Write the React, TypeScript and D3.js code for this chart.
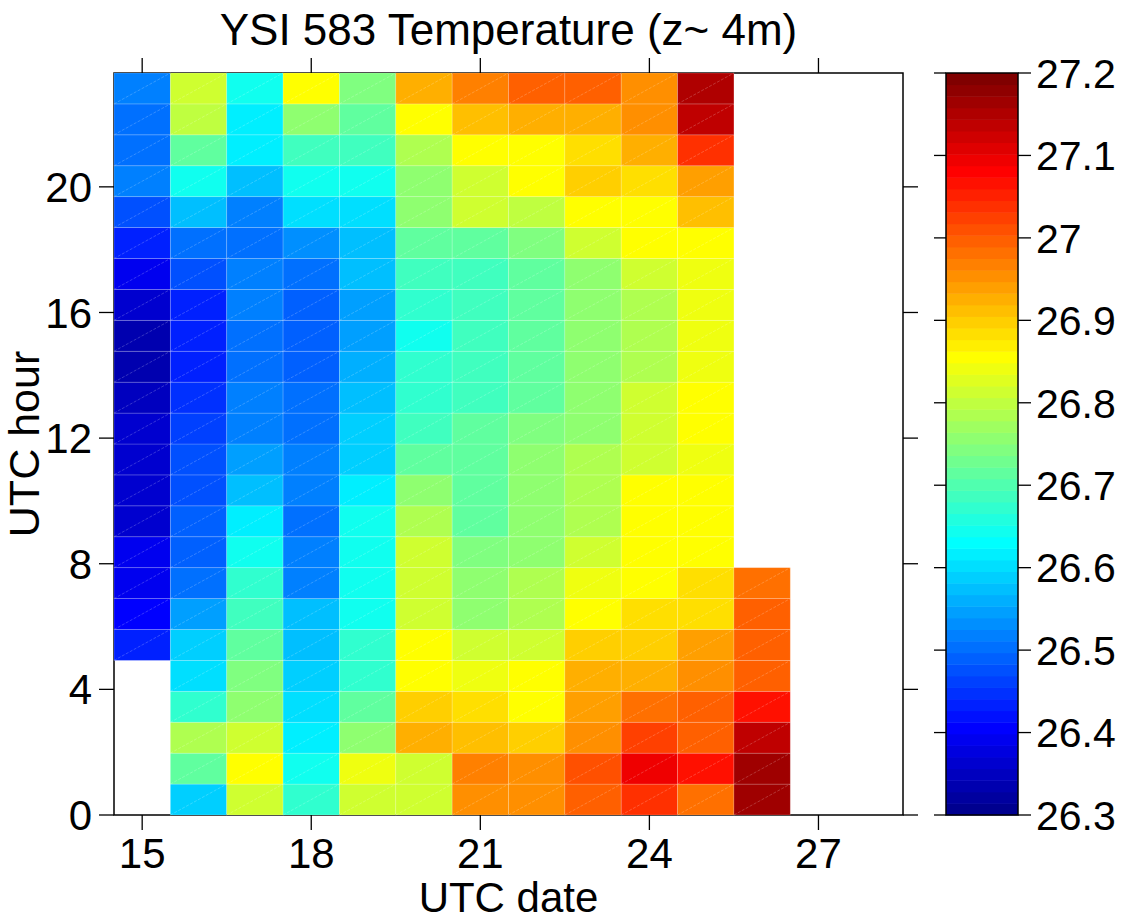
import React from "react";
import * as d3 from "d3";

const dates = [15, 16, 17, 18, 19, 20, 21, 22, 23, 24, 25, 26];
const hours = [0, 1, 2, 3, 4, 5, 6, 7, 8, 9, 10, 11, 12, 13, 14, 15, 16, 17, 18, 19, 20, 21, 22, 23];

// temperatures per date, hour 0..23 (null = no data)
const temp15 = [null, null, null, null, null, 26.43, 26.41, 26.39, 26.39, 26.37, 26.37, 26.36, 26.37, 26.355, 26.34, 26.34, 26.36, 26.39, 26.43, 26.48, 26.52, 26.51, 26.51, 26.525];
const temp16 = [26.59, 26.71, 26.78, 26.67, 26.6, 26.59, 26.55, 26.5, 26.49, 26.49, 26.48, 26.48, 26.46, 26.45, 26.44, 26.44, 26.44, 26.48, 26.51, 26.57, 26.65, 26.71, 26.8, 26.81];
const temp17 = [26.81, 26.85, 26.82, 26.76, 26.74, 26.71, 26.68, 26.67, 26.64, 26.62, 26.58, 26.55, 26.52, 26.52, 26.51, 26.5, 26.52, 26.52, 26.51, 26.525, 26.57, 26.62, 26.62, 26.64];
const temp18 = [26.67, 26.64, 26.62, 26.6, 26.59, 26.57, 26.57, 26.525, 26.52, 26.51, 26.52, 26.52, 26.51, 26.5, 26.49, 26.49, 26.49, 26.5, 26.53, 26.6, 26.65, 26.69, 26.76, 26.85];
const temp19 = [26.82, 26.835, 26.76, 26.71, 26.67, 26.67, 26.65, 26.64, 26.64, 26.64, 26.61, 26.59, 26.59, 26.57, 26.56, 26.55, 26.55, 26.57, 26.58, 26.6, 26.65, 26.68, 26.71, 26.74];
const temp20 = [26.81, 26.82, 26.93, 26.9, 26.86, 26.85, 26.81, 26.81, 26.81, 26.79, 26.76, 26.71, 26.69, 26.67, 26.67, 26.65, 26.67, 26.69, 26.71, 26.75, 26.76, 26.78, 26.86, 26.925];
const temp21 = [26.95, 26.965, 26.91, 26.89, 26.835, 26.81, 26.76, 26.75, 26.74, 26.72, 26.72, 26.71, 26.71, 26.69, 26.69, 26.68, 26.68, 26.69, 26.72, 26.81, 26.81, 26.86, 26.91, 26.966];
const temp22 = [26.95, 26.95, 26.9, 26.86, 26.85, 26.81, 26.78, 26.78, 26.76, 26.75, 26.75, 26.75, 26.74, 26.72, 26.72, 26.72, 26.72, 26.72, 26.74, 26.8, 26.86, 26.86, 26.93, 26.99];
const temp23 = [27.0, 27.01, 26.955, 26.94, 26.925, 26.9, 26.85, 26.835, 26.81, 26.79, 26.78, 26.78, 26.76, 26.76, 26.76, 26.76, 26.76, 26.76, 26.81, 26.85, 26.9, 26.88, 26.925, 27.0];
const temp24 = [27.04, 27.09, 27.02, 26.975, 26.93, 26.9, 26.89, 26.86, 26.86, 26.86, 26.85, 26.82, 26.82, 26.81, 26.78, 26.78, 26.78, 26.81, 26.85, 26.86, 26.89, 26.925, 26.96, 26.95];
const temp25 = [26.975, 27.07, 26.99, 26.99, 26.95, 26.94, 26.89, 26.88, 26.86, 26.86, 26.86, 26.84, 26.85, 26.85, 26.84, 26.835, 26.835, 26.835, 26.86, 26.91, 26.94, 27.035, 27.13, 27.145];
const temp26 = [27.17, 27.17, 27.13, 27.07, 27.0, 26.99, 26.99, 26.975, null, null, null, null, null, null, null, null, null, null, null, null, null, null, null, null];
const temps = [temp15, temp16, temp17, temp18, temp19, temp20, temp21, temp22, temp23, temp24, temp25, temp26];

const xTicks = [15, 18, 21, 24, 27];
const yTicks = [0, 4, 8, 12, 16, 20];
const cbTicks = [26.3, 26.4, 26.5, 26.6, 26.7, 26.8, 26.9, 27.0, 27.1, 27.2];
const cDomain = [26.3, 27.2];
const xDomain = [14.5, 28.5];
const yDomain = [0, 23.625];

const titleText = "YSI 583 Temperature (z~ 4m)";
const xLabel = "UTC date";
const yLabel = "UTC hour";

// MATLAB jet(64)
function jet64(): string[] {
  const n = 16;
  const u: number[] = [];
  for (let i = 1; i <= n; i++) u.push(i / n);
  for (let i = 0; i < n - 1; i++) u.push(1);
  for (let i = n; i >= 1; i--) u.push(i / n);
  const out: string[] = [];
  for (let j = 1; j <= 64; j++) {
    const gi = j - 8, ri = j - 24, bi = j + 8;
    const g = gi >= 1 && gi <= u.length ? u[gi - 1] : 0;
    const r = ri >= 1 && ri <= u.length ? u[ri - 1] : 0;
    const b = bi >= 1 && bi <= u.length ? u[bi - 1] : 0;
    out.push(d3.rgb(r * 255, g * 255, b * 255).formatHex());
  }
  return out;
}

const FONT = "'Liberation Sans', Arial, Helvetica, sans-serif";

export default function App() {
  const W = 1123, H = 919;
  const L = 114, R = 903, T = 73, B = 815;
  const cbL = 946, cbR = 1018;
  const fs = 44;
  const tickFs = 42;
  const cbFs = 41;

  const x = d3.scaleLinear().domain(xDomain).range([L, R]);
  const y = d3.scaleLinear().domain(yDomain).range([B, T]);
  const colBand = d3.scaleBand<number>().domain(dates).range([x(dates[0] - 0.5), x(dates[dates.length - 1] + 0.5)]);
  const rowBand = d3.scaleBand<number>().domain(hours).range([B, T]);
  const colors = jet64();
  const color = d3.scaleQuantize<string>().domain(cDomain).range(colors);
  const cb = d3.scaleLinear().domain(cDomain).range([B, T]);

  const cells: React.ReactNode[] = [];
  dates.forEach((d, ci) => {
    hours.forEach((h) => {
      const v = temps[ci][h];
      if (v == null) return;
      const cx = colBand(d)!;
      const cy = rowBand(h)!;
      const w = colBand.bandwidth();
      const hh = rowBand.bandwidth();
      cells.push(
        <g key={`${d}-${h}`}>
          <rect x={cx} y={cy} width={w} height={hh} fill={color(v)} stroke="#ffffff" strokeOpacity={0.22} strokeWidth={0.8} />
          <line x1={cx} y1={cy + hh} x2={cx + w} y2={cy} stroke="#ffffff" strokeOpacity={0.3} strokeWidth={0.7} strokeDasharray="3,1.5" />
        </g>
      );
    });
  });

  return (
    <div style={{ position: "absolute", left: 0, top: 0, width: W, height: H, background: "#fff" }}>
      <svg width={W} height={H} style={{ display: "block" }} fontFamily={FONT}>
        <rect x={0} y={0} width={W} height={H} fill="#fff" />
        {/* axes frame */}
        <rect x={L} y={T} width={R - L} height={B - T} fill="none" stroke="#000" strokeWidth={1.5} />
        {cells}
        {/* x ticks */}
        {xTicks.map((t) => (
          <g key={`xt${t}`}>
            <line x1={x(t)} x2={x(t)} y1={B} y2={B + 15} stroke="#000" strokeWidth={1.3} />
            <line x1={x(t)} x2={x(t)} y1={T} y2={T - 15} stroke="#000" strokeWidth={1.3} />
            <text x={x(t)} y={B + 53} fontSize={tickFs} textAnchor="middle" fill="#000">{t}</text>
          </g>
        ))}
        {/* y ticks */}
        {yTicks.map((t) => (
          <g key={`yt${t}`}>
            <line x1={L} x2={L - 15} y1={y(t)} y2={y(t)} stroke="#000" strokeWidth={1.3} />
            <line x1={R} x2={R + 15} y1={y(t)} y2={y(t)} stroke="#000" strokeWidth={1.3} />
            <text x={92} y={y(t)} dy="0.36em" fontSize={tickFs} textAnchor="end" fill="#000">{t}</text>
          </g>
        ))}
        {/* titles */}
        <text x={(L + R) / 2} y={45} fontSize={fs} textAnchor="middle" fill="#000">{titleText}</text>
        <text x={(L + R) / 2} y={912} fontSize={42} textAnchor="middle" fill="#000">{xLabel}</text>
        <text transform={`translate(39,${(T + B) / 2}) rotate(-90)`} fontSize={43} textAnchor="middle" fill="#000">{yLabel}</text>
        {/* colorbar */}
        {colors.map((c) => {
          const [a, b] = color.invertExtent(c);
          return <rect key={`cb${c}`} x={cbL} y={cb(b)} width={cbR - cbL} height={cb(a) - cb(b) + 0.5} fill={c} />;
        })}
        <rect x={cbL} y={T} width={cbR - cbL} height={B - T} fill="none" stroke="#000" strokeWidth={1.5} />
        {cbTicks.map((t) => (
          <g key={`cbt${t}`}>
            <line x1={cbL} x2={cbL - 12} y1={cb(t)} y2={cb(t)} stroke="#000" strokeWidth={1.3} />
            <line x1={cbR} x2={cbR + 13} y1={cb(t)} y2={cb(t)} stroke="#000" strokeWidth={1.3} />
            <text x={1036} y={cb(t)} dy="0.36em" fontSize={cbFs} textAnchor="start" fill="#000">{String(+t.toFixed(1))}</text>
          </g>
        ))}
      </svg>
    </div>
  );
}
